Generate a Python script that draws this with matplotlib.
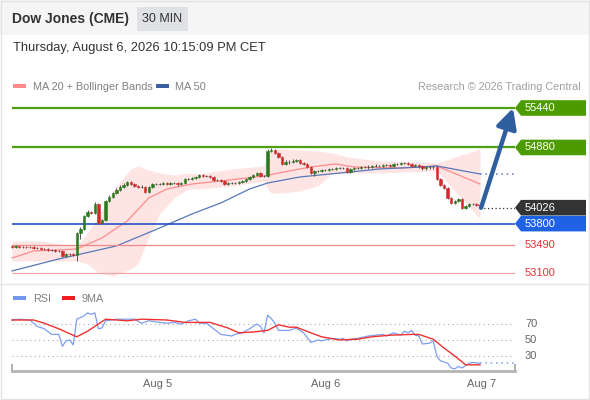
import matplotlib
matplotlib.use('Agg')
import matplotlib.pyplot as plt
from matplotlib.patches import Rectangle, Polygon
from matplotlib.transforms import blended_transform_factory

plt.rcParams['font.family'] = ['Liberation Sans', 'DejaVu Sans']

# 30 min bars, Aug 5 - Aug 7
first_open = 53476
closes = [53469, 53476, 53469, 53469, 53462, 53469, 53455, 53455, 53441, 53434,
          53426, 53426, 53412, 53412, 53341, 53370, 53363, 53356, 53667, 53724,
          53909, 53965, 53951, 54079, 53809, 53852, 54121, 54178, 54235, 54277,
          54320, 54348, 54391, 54362, 54334, 54320, 54320, 54249, 54320, 54362,
          54362, 54362, 54376, 54362, 54376, 54376, 54355, 54376, 54433, 54433,
          54447, 54462, 54490, 54476, 54476, 54462, 54419, 54419, 54405, 54362,
          54376, 54376, 54376, 54391, 54405, 54433, 54462, 54490, 54518, 54476,
          54476, 54830, 54844, 54802, 54745, 54646, 54674, 54674, 54688, 54703,
          54660, 54646, 54603, 54518, 54547, 54547, 54561, 54561, 54575, 54575,
          54589, 54589, 54589, 54532, 54575, 54589, 54589, 54603, 54603, 54603,
          54618, 54618, 54618, 54632, 54632, 54618, 54646, 54646, 54660, 54660,
          54646, 54618, 54632, 54618, 54589, 54603, 54603, 54603, 54433, 54348,
          54306, 54164, 54093, 54121, 54150, 54022, 54050, 54079, 54079, 54065,
          54026]
highs = [53495, 53490, 53488, 53483, 53480, 53484, 53476, 53470, 53462, 53455,
         53448, 53441, 53440, 53430, 53420, 53384, 53380, 53377, 53680, 53750,
         53925, 53990, 53985, 54100, 54093, 53870, 54140, 54200, 54255, 54300,
         54345, 54370, 54410, 54405, 54376, 54350, 54350, 54330, 54340, 54380,
         54376, 54380, 54390, 54390, 54392, 54390, 54388, 54392, 54450, 54450,
         54465, 54480, 54505, 54505, 54495, 54490, 54470, 54433, 54430, 54415,
         54390, 54395, 54390, 54405, 54420, 54450, 54480, 54510, 54535, 54530,
         54495, 54859, 54870, 54859, 54816, 54760, 54700, 54700, 54710, 54720,
         54720, 54674, 54660, 54618, 54561, 54561, 54575, 54580, 54589, 54589,
         54603, 54603, 54610, 54600, 54589, 54603, 54603, 54618, 54620, 54625,
         54632, 54640, 54632, 54646, 54650, 54646, 54660, 54660, 54674, 54680,
         54674, 54660, 54646, 54646, 54632, 54618, 54620, 54618, 54618, 54447,
         54362, 54320, 54178, 54135, 54164, 54164, 54065, 54093, 54093, 54093,
         54079]
lows = [53455, 53460, 53455, 53455, 53448, 53450, 53441, 53441, 53427, 53420,
        53412, 53412, 53398, 53396, 53330, 53327, 53348, 53341, 53270, 53583,
        53710, 53895, 53937, 53930, 53800, 53800, 53838, 54107, 54164, 54220,
        54263, 54306, 54334, 54348, 54320, 54306, 54300, 54235, 54240, 54306,
        54348, 54345, 54350, 54348, 54350, 54360, 54340, 54341, 54362, 54420,
        54420, 54433, 54450, 54462, 54462, 54448, 54405, 54405, 54391, 54348,
        54348, 54360, 54360, 54362, 54376, 54391, 54420, 54448, 54476, 54462,
        54460, 54462, 54816, 54788, 54730, 54632, 54632, 54646, 54660, 54674,
        54646, 54632, 54589, 54504, 54476, 54532, 54532, 54547, 54547, 54561,
        54561, 54575, 54575, 54518, 54518, 54561, 54575, 54575, 54589, 54580,
        54589, 54600, 54603, 54603, 54618, 54600, 54603, 54632, 54632, 54646,
        54632, 54603, 54603, 54589, 54561, 54561, 54575, 54580, 54419, 54334,
        54290, 54150, 54079, 54079, 54107, 54008, 54008, 54036, 54065, 54050,
        54012]

# indicators (at some bars)
ma20_idx = [0, 6, 13, 18, 25, 32, 38, 43, 50, 58, 70, 77, 83, 90, 95, 108, 118, 130]
ma20 = [53313, 53412, 53426, 53441, 53597, 53838, 54164, 54291, 54362, 54405,
        54476, 54547, 54603, 54646, 54603, 54589, 54618, 54362]
ma50_idx = [0, 13, 29, 41, 50, 58, 66, 71, 80, 94, 102, 114, 118, 130]
ma50 = [53129, 53299, 53483, 53738, 53937, 54093, 54291, 54376, 54462, 54532,
        54575, 54603, 54618, 54504]
band_idx = [0, 8, 18, 21, 24, 28, 33, 35, 37, 41, 45, 49, 52, 61, 70, 71, 72,
            75, 80, 85, 89, 93, 102, 116, 118, 130]
band_upper = [53554, 53554, 53483, 53668, 53909, 54263, 54575, 54618, 54575, 54518,
              54490, 54518, 54504, 54575, 54618, 54830, 54844, 54859, 54844, 54830,
              54802, 54745, 54688, 54674, 54660, 54859]
band_lower = [53270, 53270, 53270, 53228, 53100, 53058, 53157, 53228, 53483, 53937,
              54164, 54291, 54291, 54334, 54405, 54291, 54235, 54235, 54263, 54334,
              54518, 54518, 54518, 54547, 54547, 53866]

# key levels
resistances = [55440, 54880]
last_price = 54026
pivot = 53800
supports = [53490, 53100]
target = 55440

# RSI panel
rsi_idx = [0, 2, 5, 7, 9, 11, 13, 14, 15, 16, 17, 18, 20, 21, 22, 23, 24, 25, 26, 29,
           32, 34, 36, 38, 41, 43, 45, 47, 49, 51, 52, 54, 56, 58, 61, 62, 64, 66, 68, 69,
           70, 71, 72, 73, 74, 77, 79, 81, 83, 85, 86, 88, 89, 91, 92, 93, 94, 96, 99, 101,
           103, 104, 106, 108, 109, 110, 111, 112, 113, 114, 116, 117, 118, 119, 121, 122,
           123, 124, 125, 127, 128, 130]
rsi = [75, 76, 75, 67, 64, 57, 57, 42, 49, 50, 44, 76, 80, 84, 82, 84, 64, 65, 74, 76,
       76, 76, 71, 74, 72, 71, 72, 70, 74, 76, 71, 71, 64, 57, 55, 57, 59, 64, 70, 67,
       59, 81, 77, 71, 62, 62, 65, 59, 47, 50, 49, 51, 52, 51, 52, 49, 51, 52, 55, 56,
       57, 55, 59, 56, 61, 59, 62, 56, 55, 45, 46, 49, 30, 24, 21, 15, 14, 17, 15, 21,
       22, 21]
rsi_ma_idx = [0, 6, 9, 13, 18, 21, 24, 26, 32, 36, 43, 48, 55, 60, 63, 67, 71, 74, 77,
              79, 83, 86, 91, 96, 100, 105, 111, 113, 117, 120, 123, 126, 130]
rsi_ma = [75, 75, 71, 64, 54, 61, 70, 76, 74, 76, 75, 72, 72, 65, 59, 60, 62, 69, 66,
          66, 59, 54, 50, 51, 54, 56, 57, 57, 51, 40, 30, 19, 19]
rsi_levels = [70, 50, 30]
day_pos = [40.3, 87.2, 130.3]
day_labels = ['Aug 5', 'Aug 6', 'Aug 7']

W, H = 590, 400
BAR = 3.6  # px per bar


def fx(x):
    return x / W


def fy(y):
    return 1 - y / H


fig = plt.figure(figsize=(W / 100, H / 100), dpi=100)
fig.patch.set_facecolor('white')

# header
fig.add_artist(Rectangle((0, fy(35)), 1, 35 / H, transform=fig.transFigure,
                         color='#f5f5f5', lw=0, zorder=0))
fig.add_artist(Rectangle((fx(137), fy(31)), 51 / W, 24 / H, transform=fig.transFigure,
                         color='#dfe1e4', lw=0))
fig.text(fx(12), fy(19.5), 'Dow Jones (CME)', fontsize=10, fontweight='bold',
         color='#333333', va='center')
fig.text(fx(162.5), fy(19.5), '30 MIN', fontsize=9, color='#333333', va='center', ha='center')
fig.text(fx(13), fy(48.5), 'Thursday, August 6, 2026 10:15:09 PM CET', fontsize=9.3,
         color='#333333', va='center')

# legends
fig.add_artist(Rectangle((fx(13), fy(88)), 13 / W, 4 / H, transform=fig.transFigure,
                         color='#ff8a8a', lw=0))
fig.text(fx(33), fy(86.5), 'MA 20 + Bollinger Bands', fontsize=7.8, color='#808080', va='center')
fig.add_artist(Rectangle((fx(156), fy(88)), 13 / W, 4 / H, transform=fig.transFigure,
                         color='#3b5f9c', lw=0))
fig.text(fx(175), fy(86.5), 'MA 50', fontsize=7.8, color='#808080', va='center')
fig.text(fx(581), fy(86.5), 'Research © 2026 Trading Central', fontsize=7.8,
         color='#a0a0a0', va='center', ha='right')

fig.add_artist(Rectangle((fx(13), fy(300)), 13 / W, 4 / H, transform=fig.transFigure,
                         color='#7196ee', lw=0))
fig.text(fx(33), fy(298.5), 'RSI', fontsize=7.8, color='#808080', va='center')
fig.add_artist(Rectangle((fx(62), fy(300)), 13 / W, 4 / H, transform=fig.transFigure,
                         color='#f21c1c', lw=0))
fig.text(fx(82), fy(298.5), '9MA', fontsize=7.8, color='#808080', va='center')

# separators / border
fig.add_artist(plt.Line2D([0, 1], [fy(284), fy(284)], transform=fig.transFigure,
                          color='#e6e6e6', lw=1))
fig.add_artist(Rectangle((fx(0.5), fy(398.5)), 588 / W, 398 / H, transform=fig.transFigure,
                         fill=False, edgecolor='#e3e3e3', lw=1))

xmin, xmax = -4 / BAR, 503 / BAR
p_top, p_bot = 55610, 52958

ax = fig.add_axes([fx(8), fy(283), 507 / W, 187 / H])
ax.set_xlim(xmin, xmax)
ax.set_ylim(p_bot, p_top)
ax.axis('off')

n = len(closes)
xs = list(range(n))
opens = [first_open] + closes[:-1]

ax.fill_between(band_idx, band_lower, band_upper, color='#ffe2e2', alpha=0.9, lw=0, zorder=1)
ax.plot(ma20_idx, ma20, color='#ff8c8c', lw=0.9, zorder=2)
ax.plot(ma50_idx, ma50, color='#5578b8', lw=0.9, zorder=2)

# levels
for lv in resistances:
    ax.hlines(lv, 0, xmax, color='#4f9f12', lw=1.6, zorder=2)
ax.hlines(pivot, 0, xmax, color='#2451c7', lw=1.2, zorder=2)
ax.hlines(supports[0], 0, xmax, color='#f08a8a', lw=0.9, zorder=2)
ax.hlines(supports[1], 0, xmax, color='#f5a5a5', lw=0.9, zorder=2)
ax.hlines(last_price, n - 1, xmax, color='#333333', lw=0.9, ls=(0, (1, 2)), zorder=2)
ax.hlines(ma50[-1], n - 1, xmax, color='#5578b8', lw=1.1, ls=(0, (1, 2.5)), zorder=2)

# candles
cols = []
for o, c in zip(opens, closes):
    if c > o:
        cols.append('#2c7a1f')
    elif c < o:
        cols.append('#d42a2a')
    else:
        cols.append('#444444')
ax.vlines(xs, lows, highs, color='#555555', lw=0.7, zorder=3)
ax.bar(xs, [abs(c - o) for o, c in zip(opens, closes)],
       bottom=[min(o, c) for o, c in zip(opens, closes)],
       width=0.72, color=cols, edgecolor=cols, lw=0.4, zorder=4)

# forecast arrow
ax.annotate('', xy=((513 - 12) / BAR, target), xytext=(n - 1 + 0.3, closes[-1]),
            arrowprops=dict(arrowstyle='-|>,head_length=0.75,head_width=0.38',
                            color='#2f5f9f', lw=3.2, shrinkA=0, shrinkB=0,
                            mutation_scale=16), zorder=6)

# right labels
trans = blended_transform_factory(fig.transFigure, ax.transData)
hh = 7.8 * (p_top - p_bot) / 187


def tag(price, face):
    pts = [(fx(515), price), (fx(521), price + hh), (fx(586), price + hh),
           (fx(586), price - hh), (fx(521), price - hh)]
    ax.add_patch(Polygon(pts, closed=True, transform=trans, color=face, lw=0,
                         clip_on=False, zorder=7))
    ax.text(fx(525), price, str(price), transform=trans, color='white', fontsize=8,
            va='center', ha='left', zorder=8, clip_on=False)


for lv in resistances:
    tag(lv, '#4c9c00')
tag(last_price, '#333333')
tag(pivot, '#1f62e6')
for lv in supports:
    ax.text(fx(525), lv, str(lv), transform=trans, color='#e23434', fontsize=8,
            va='center', ha='left', clip_on=False)

# RSI
ax2 = fig.add_axes([fx(8), fy(371), 507 / W, 65 / H])
ax2.set_xlim(xmin, xmax)
ax2.set_ylim(11.25, 92.5)
for s in ax2.spines.values():
    s.set_visible(False)
ax2.set_yticks([])
ax2.set_xticks(day_pos, day_labels)
ax2.tick_params(axis='x', length=0, pad=6, labelsize=8, labelcolor='#666666')
ax2.patch.set_alpha(0)

ax2.hlines(rsi_levels, 0, xmax, colors='#aaaaaa', lw=0.8, linestyles=(0, (1, 3)))
ax2.plot(rsi_idx, rsi, color='#7d9ff0', lw=0.9)
ax2.plot(rsi_ma_idx, rsi_ma, color='#f03030', lw=1.0)
ax2.hlines(rsi[-1], n - 1, xmax, colors='#7d9ff0', lw=1.1, linestyles=(0, (1, 2.5)))

t2 = blended_transform_factory(ax2.transData, ax2.transAxes)
ax2.plot([0, xmax], [0, 0], transform=t2, color='#b3b3b3', lw=2, clip_on=False)
ax2.plot([0, 0], [0, 0.09], transform=t2, color='#b3b3b3', lw=1.5, clip_on=False)
ax2.plot([xmax, xmax], [0, 0.09], transform=t2, color='#b3b3b3', lw=1.5, clip_on=False)

t3 = blended_transform_factory(fig.transFigure, ax2.transData)
for lv in rsi_levels:
    ax2.text(fx(525), lv, str(lv), transform=t3, color='#666666', fontsize=8,
             va='center', ha='left', clip_on=False)

fig.savefig('out.png', dpi=100)
